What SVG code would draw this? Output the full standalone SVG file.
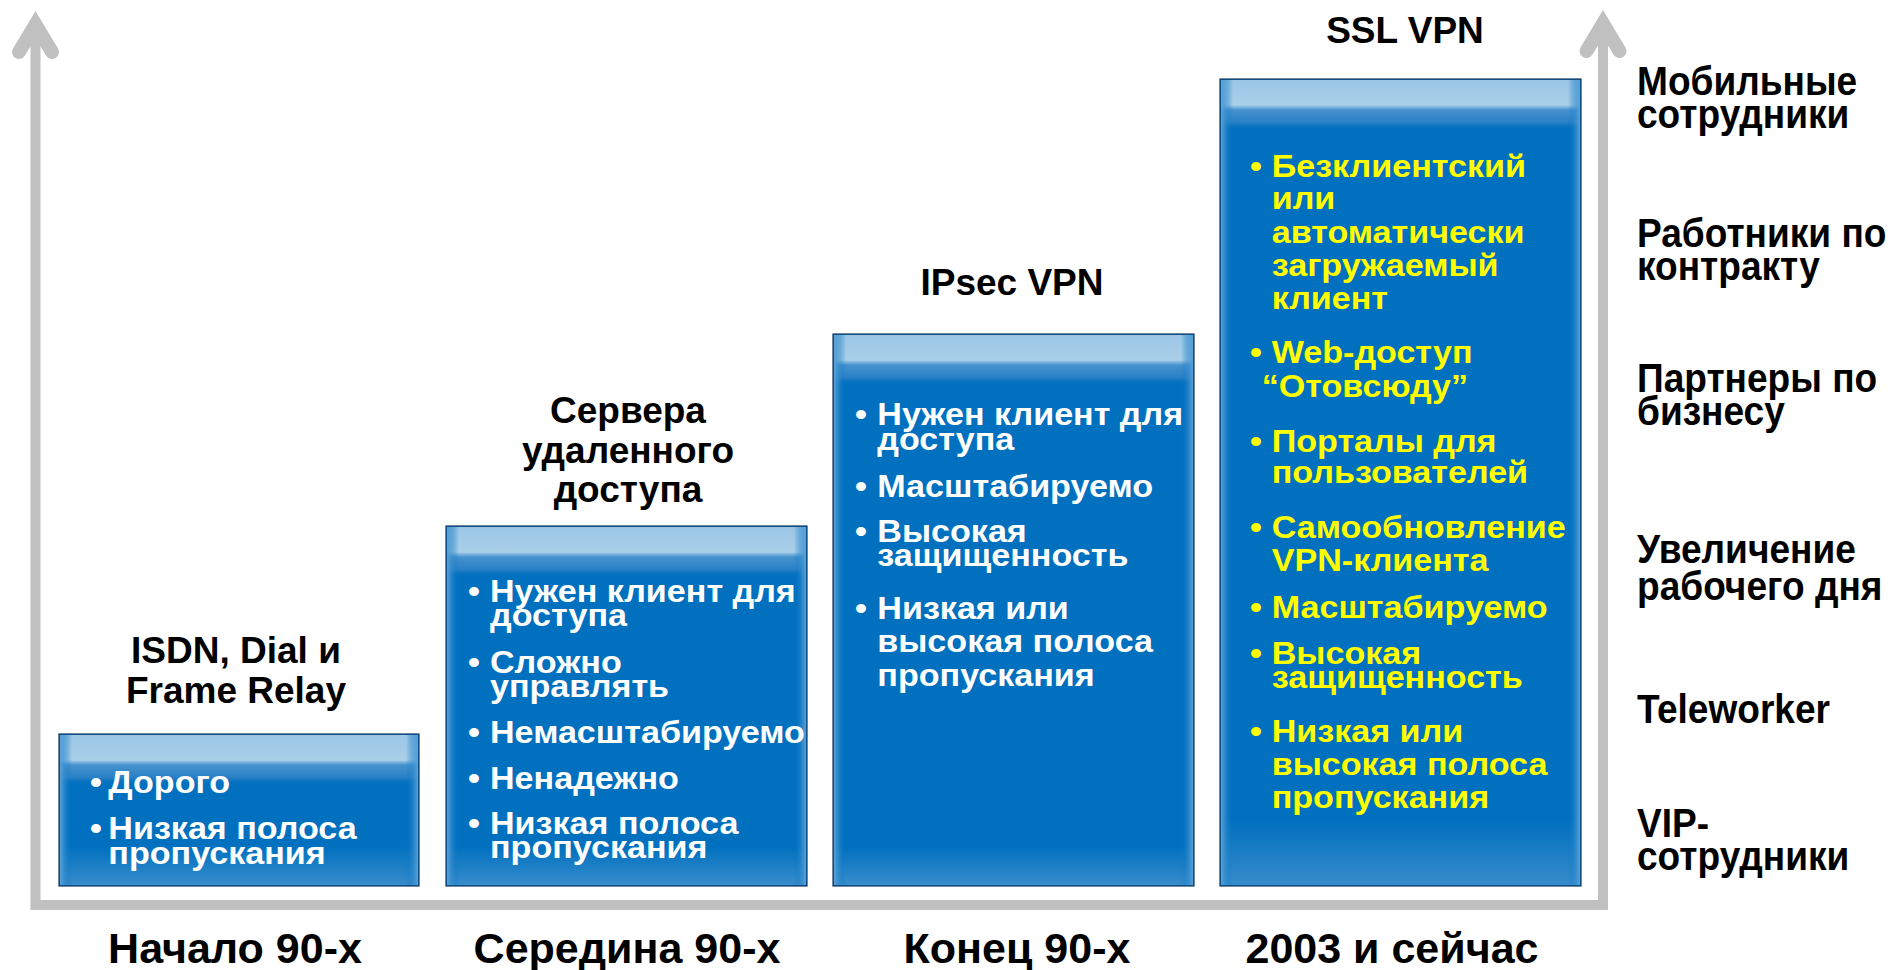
<svg xmlns="http://www.w3.org/2000/svg" width="1891" height="970" viewBox="0 0 1891 970">
<style>
.t{font-family:"Liberation Sans",Arial,sans-serif;font-weight:bold}
.title{font-size:37px;text-anchor:middle;fill:#000}
.era{font-size:43px;text-anchor:middle;fill:#000}
.side{font-size:36px;fill:#000}
.w{font-size:31px;fill:#fff}
.y{font-size:31px;fill:#ff0}
.box{fill:#0070bf;stroke:#17375e;stroke-width:1.2}
.axis{fill:none;stroke:#c0c0c0;stroke-width:10}
.head{fill:none;stroke:#c0c0c0;stroke-width:14;stroke-linecap:round;stroke-linejoin:miter}
</style>
<defs>
<linearGradient id="gTop" x1="0" y1="0" x2="0" y2="1">
<stop offset="0" stop-color="#9cc6e6"/>
<stop offset="0.5" stop-color="#a9cfe9"/>
<stop offset="0.6" stop-color="#4592ce"/>
<stop offset="0.85" stop-color="#2a80c6"/>
<stop offset="1" stop-color="#0070bf" stop-opacity="0"/>
</linearGradient>
<linearGradient id="gBot" x1="0" y1="0" x2="0" y2="1">
<stop offset="0" stop-color="#3d8fcc" stop-opacity="0"/>
<stop offset="1" stop-color="#3d8fcc" stop-opacity="0.9"/>
</linearGradient>
<linearGradient id="gL" x1="0" y1="0" x2="1" y2="0">
<stop offset="0" stop-color="#5aa2d8"/>
<stop offset="1" stop-color="#0070bf" stop-opacity="0"/>
</linearGradient>
<linearGradient id="gR" x1="0" y1="0" x2="1" y2="0">
<stop offset="0" stop-color="#0070bf" stop-opacity="0"/>
<stop offset="1" stop-color="#5aa2d8"/>
</linearGradient>
</defs>
<rect width="1891" height="970" fill="#fff"/>

<g id="connectors">
<path class="axis" d="M35.5,30 V905 H1603 V30"/>
<polyline class="head" points="19,52 35.5,24.6 52,52"/>
<polyline class="head" points="1586.5,51 1603,23.6 1619.5,51"/>
</g>

<g id="box1">
<rect class="box" x="59" y="734" width="360" height="152"/>
<rect x="60" y="735" width="358" height="50" fill="url(#gTop)"/>
<rect x="60" y="846" width="358" height="39" fill="url(#gBot)"/>
<rect x="60" y="735" width="12" height="150" fill="url(#gL)"/>
<rect x="406" y="735" width="12" height="150" fill="url(#gR)"/>
<text class="t title" x="236" y="663.3">ISDN, Dial и</text>
<text class="t title" x="236" y="702.7">Frame Relay</text>
<g transform="translate(108.3,0) scale(1.1,1)">
<text class="t w" x="-16.6" y="793.5">•</text><text class="t w" x="0" y="793.5">Дорого</text>
<text class="t w" x="-16.6" y="839.5">•</text><text class="t w" x="0" y="839.5">Низкая полоса</text>
<text class="t w" x="0" y="864.3">пропускания</text>
</g>
</g>

<g id="box2">
<rect class="box" x="446" y="526" width="361" height="360"/>
<rect x="447" y="527" width="359" height="50" fill="url(#gTop)"/>
<rect x="447" y="846" width="359" height="39" fill="url(#gBot)"/>
<rect x="447" y="527" width="12" height="358" fill="url(#gL)"/>
<rect x="794" y="527" width="12" height="358" fill="url(#gR)"/>
<text class="t title" x="628" y="422.7">Сервера</text>
<text class="t title" x="628" y="462.7">удаленного</text>
<text class="t title" x="628" y="501.7">доступа</text>
<g transform="translate(490,0) scale(1.1,1)">
<text class="t w" x="-20" y="601.7">•</text><text class="t w" x="0" y="601.7">Нужен клиент для</text>
<text class="t w" x="0" y="626.5">доступа</text>
<text class="t w" x="-20" y="672.7">•</text><text class="t w" x="0" y="672.7">Сложно</text>
<text class="t w" x="0" y="696.7">управлять</text>
<text class="t w" x="-20" y="742.7">•</text><text class="t w" x="0" y="742.7">Немасштабируемо</text>
<text class="t w" x="-20" y="789.3">•</text><text class="t w" x="0" y="789.3">Ненадежно</text>
<text class="t w" x="-20" y="834">•</text><text class="t w" x="0" y="834">Низкая полоса</text>
<text class="t w" x="0" y="858.3">пропускания</text>
</g>
</g>

<g id="box3">
<rect class="box" x="833" y="334" width="361" height="552"/>
<rect x="834" y="335" width="359" height="50" fill="url(#gTop)"/>
<rect x="834" y="846" width="359" height="39" fill="url(#gBot)"/>
<rect x="834" y="335" width="12" height="550" fill="url(#gL)"/>
<rect x="1181" y="335" width="12" height="550" fill="url(#gR)"/>
<text class="t title" x="1012" y="295">IPsec VPN</text>
<g transform="translate(877.3,0) scale(1.1,1)">
<text class="t w" x="-20.3" y="425">•</text><text class="t w" x="0" y="425">Нужен клиент для</text>
<text class="t w" x="0" y="450">доступа</text>
<text class="t w" x="-20.3" y="496.7">•</text><text class="t w" x="0" y="496.7">Масштабируемо</text>
<text class="t w" x="-20.3" y="541.7">•</text><text class="t w" x="0" y="541.7">Высокая</text>
<text class="t w" x="0" y="566">защищенность</text>
<text class="t w" x="-20.3" y="619">•</text><text class="t w" x="0" y="619">Низкая или</text>
<text class="t w" x="0" y="652.5">высокая полоса</text>
<text class="t w" x="0" y="686">пропускания</text>
</g>
</g>

<g id="box4">
<rect class="box" x="1220" y="79" width="361" height="807"/>
<rect x="1221" y="80" width="359" height="50" fill="url(#gTop)"/>
<rect x="1221" y="820" width="359" height="65" fill="url(#gBot)"/>
<rect x="1221" y="80" width="12" height="805" fill="url(#gL)"/>
<rect x="1568" y="80" width="12" height="805" fill="url(#gR)"/>
<text class="t title" x="1405" y="42.7">SSL VPN</text>
<g transform="translate(1271.7,0) scale(1.1,1)">
<text class="t y" x="-19.7" y="176.7">•</text><text class="t y" x="0" y="176.7">Безклиентский</text>
<text class="t y" x="0" y="209.3">или</text>
<text class="t y" x="0" y="242.7">автоматически</text>
<text class="t y" x="0" y="276">загружаемый</text>
<text class="t y" x="0" y="309.3">клиент</text>
<text class="t y" x="-19.7" y="363.3">•</text><text class="t y" x="0" y="363.3">Web-доступ</text>
<text class="t y" x="-9.1" y="396.7">“Отовсюду”</text>
<text class="t y" x="-19.7" y="451.7">•</text><text class="t y" x="0" y="451.7">Порталы для</text>
<text class="t y" x="0" y="483.3">пользователей</text>
<text class="t y" x="-19.7" y="538.3">•</text><text class="t y" x="0" y="538.3">Самообновление</text>
<text class="t y" x="0" y="570.7">VPN-клиента</text>
<text class="t y" x="-19.7" y="618.3">•</text><text class="t y" x="0" y="618.3">Масштабируемо</text>
<text class="t y" x="-19.7" y="664">•</text><text class="t y" x="0" y="664">Высокая</text>
<text class="t y" x="0" y="688.3">защищенность</text>
<text class="t y" x="-19.7" y="741.7">•</text><text class="t y" x="0" y="741.7">Низкая или</text>
<text class="t y" x="0" y="775">высокая полоса</text>
<text class="t y" x="0" y="808.3">пропускания</text>
</g>
</g>

<g id="eras">
<text class="t era" x="235" y="962.7">Начало 90-х</text>
<text class="t era" x="627" y="962.7">Середина 90-х</text>
<text class="t era" x="1017" y="962.7">Конец 90-х</text>
<text class="t era" x="1392" y="962.7">2003 и сейчас</text>
</g>

<g id="users">
<text class="t side" transform="translate(1637,95) scale(1.03,1.12)">Мобильные</text>
<text class="t side" transform="translate(1637,128.3) scale(1.03,1.12)">сотрудники</text>
<text class="t side" transform="translate(1637,246.7) scale(1.03,1.12)">Работники по</text>
<text class="t side" transform="translate(1637,280) scale(1.03,1.12)">контракту</text>
<text class="t side" transform="translate(1637,391.7) scale(1.03,1.12)">Партнеры по</text>
<text class="t side" transform="translate(1637,425) scale(1.03,1.12)">бизнесу</text>
<text class="t side" transform="translate(1637,563.3) scale(1.03,1.12)">Увеличение</text>
<text class="t side" transform="translate(1637,600) scale(1.03,1.12)">рабочего дня</text>
<text class="t side" transform="translate(1637,722.7) scale(1.03,1.12)">Teleworker</text>
<text class="t side" transform="translate(1637,836.7) scale(1.03,1.12)">VIP-</text>
<text class="t side" transform="translate(1637,870) scale(1.03,1.12)">сотрудники</text>
</g>
</svg>
